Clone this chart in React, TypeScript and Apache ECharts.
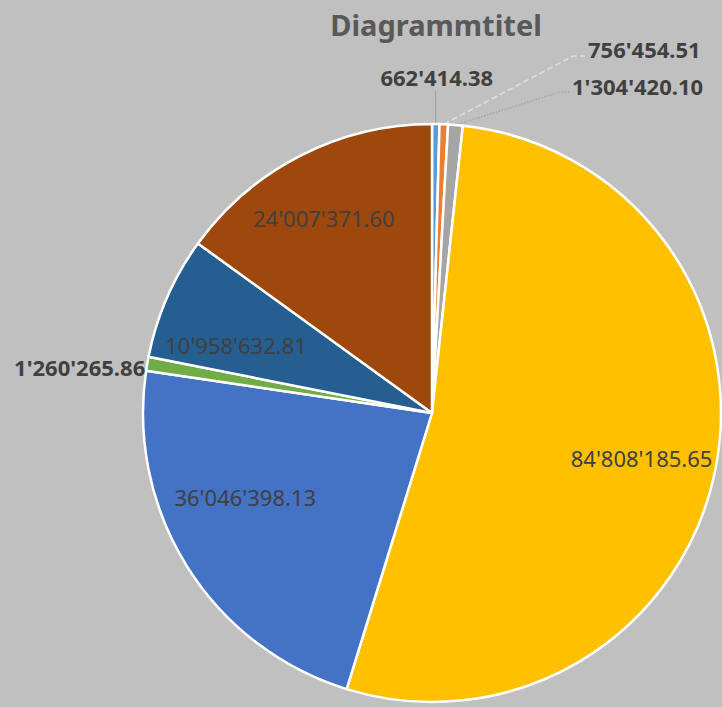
import React, { useEffect, useRef } from "react";
import * as echarts from "echarts";

const sliceNames = ["Posten 1", "Posten 2", "Posten 3", "Posten 4", "Posten 5", "Posten 6", "Posten 7", "Posten 8"];
const sliceValues = [662414.38, 756454.51, 1304420.1, 84808185.65, 36046398.13, 1260265.86, 10958632.81, 24007371.6];
const sliceColors = ["#5B9BD5", "#ED7D31", "#A5A5A5", "#FFC000", "#4472C4", "#70AD47", "#255E91", "#9E480E"];
const outsideLabelIdx = [0, 1, 2, 5];
const titleText = "Diagrammtitel";

const CX = 432;
const CY = 413;
const R = 289;
const FONT = "'Noto Sans', sans-serif";

function fmt(v: number): string {
  const [i, d] = v.toFixed(2).split(".");
  return i.replace(/\B(?=(\d{3})+(?!\d))/g, "'") + "." + d;
}

const total = sliceValues.reduce((a, b) => a + b, 0);
const midAngles: number[] = [];
{
  let acc = 0;
  for (const v of sliceValues) {
    const a = (v / total) * Math.PI * 2;
    midAngles.push(acc + a / 2);
    acc += a;
  }
}
const edge = (i: number, r = R) => [CX + r * Math.sin(midAngles[i]), CY - r * Math.cos(midAngles[i])];

// label nudges for inside labels (style, not data)
const innerNudge: Record<number, [number, number]> = {
  3: [-2, 1],
  4: [-4, -31],
  6: [2, 18],
  7: [-10, -3],
};

export default function App() {
  const ref = useRef<HTMLDivElement>(null);
  useEffect(() => {
    if (!ref.current) return;
    const chart = echarts.init(ref.current, undefined, { renderer: "svg" });

    const mainData = sliceValues.map((v, i) => {
      const showOut = outsideLabelIdx.includes(i);
      const lineStyles: Record<number, any> = {
        0: { color: "#9a9a9a", width: 1, type: "solid" },
        1: { color: "#dedede", width: 1.5, type: "dashed" },
        2: { color: "#a4a4a4", width: 1.5, type: "dotted" },
      };
      return {
        name: sliceNames[i],
        value: v,
        itemStyle: { color: sliceColors[i] },
        label: { show: showOut },
        labelLine: { show: showOut && i !== 5, lineStyle: lineStyles[i] || {} },
      };
    });

    const labelData = sliceValues.map((v, i) => ({
      name: sliceNames[i],
      value: v,
      label: { show: !outsideLabelIdx.includes(i) },
    }));

    chart.setOption({
      animation: false,
      backgroundColor: "#C0C0C0",
      graphic: [
        {
          type: "text",
          x: 436,
          y: 24,
          style: {
            text: titleText,
            fill: "#595959",
            fontSize: 29,
            fontWeight: "bold",
            fontFamily: FONT,
            align: "center",
            textAlign: "center",
            verticalAlign: "middle",
            textVerticalAlign: "middle",
          },
        },
      ],
      series: [
        {
          type: "pie",
          center: [CX, CY],
          radius: [0, R],
          startAngle: 90,
          clockwise: true,
          avoidLabelOverlap: false,
          emphasis: { disabled: true },
          itemStyle: { borderColor: "#ffffff", borderWidth: 2.5 },
          label: {
            show: false,
            position: "outside",
            formatter: (p: any) => fmt(p.value),
            fontSize: 22,
            fontWeight: "bold",
            color: "#404040",
            fontFamily: FONT,
          },
          labelLine: { show: false },
          labelLayout: (params: any) => {
            const i = params.dataIndex;
            const [ex, ey] = edge(i);
            if (i === 0) {
              return {
                x: ex + 1,
                y: CY - R - 47,
                align: "center",
                verticalAlign: "middle",
                labelLinePoints: [[ex, ey], [ex, CY - R - 33], [ex, CY - R - 33]],
              };
            }
            if (i === 1) {
              return {
                x: 588,
                y: 49,
                align: "left",
                verticalAlign: "middle",
                labelLinePoints: [[ex, ey], [573, 56], [585, 56]],
              };
            }
            if (i === 2) {
              return {
                x: 572,
                y: 86,
                align: "left",
                verticalAlign: "middle",
                labelLinePoints: [[ex, ey], [560, 92], [570, 92]],
              };
            }
            if (i === 5) {
              return {
                x: ex - 2,
                y: ey + 3,
                align: "right",
                verticalAlign: "middle",
              };
            }
            return {};
          },
          data: mainData,
        },
        {
          type: "pie",
          silent: true,
          center: [CX, CY],
          radius: [196, 230],
          startAngle: 90,
          clockwise: true,
          avoidLabelOverlap: false,
          emphasis: { disabled: true },
          itemStyle: { color: "rgba(0,0,0,0)", borderWidth: 0 },
          label: {
            show: true,
            position: "inside",
            formatter: (p: any) => fmt(p.value),
            fontSize: 22,
            fontWeight: "normal",
            color: "#404040",
            fontFamily: FONT,
          },
          labelLine: { show: false },
          labelLayout: (params: any) => {
            const n = innerNudge[params.dataIndex];
            return n ? { dx: n[0], dy: n[1] } : {};
          },
          data: labelData,
        },
      ],
    });
    return () => chart.dispose();
  }, []);
  return <div ref={ref} style={{ position: "fixed", left: 0, top: 0, width: 722, height: 707 }} />;
}
